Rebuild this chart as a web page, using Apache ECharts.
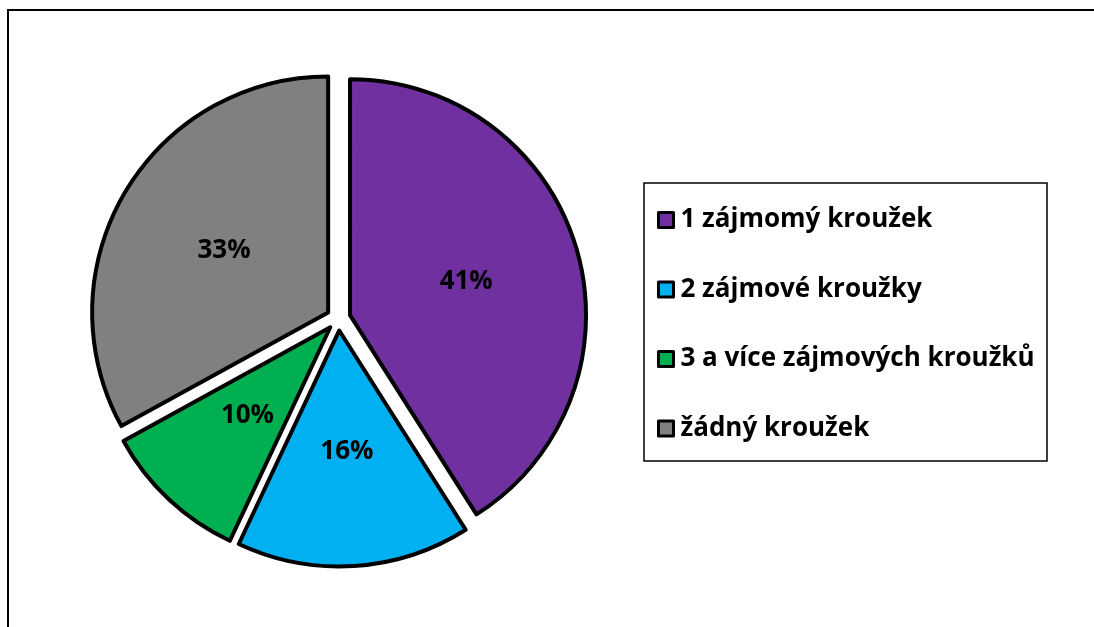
<!DOCTYPE html>
<html><head><meta charset="utf-8">
<script src="https://cdn.jsdelivr.net/npm/echarts@6/dist/echarts.min.js"></script>
<style>html,body{margin:0;padding:0;background:#fff}#c{width:1094px;height:627px}</style>
</head><body><div id="c"></div>
<script>
const categories = ['1 zájmomý kroužek', '2 zájmové kroužky', '3 a více zájmových kroužků', 'žádný kroužek'];
const values = [41, 16, 10, 33];
const colors = ['#7030A0', '#00B0F0', '#00B050', '#808080'];

const chart = echarts.init(document.getElementById('c'));
const FONT = '"Open Sans", sans-serif';
chart.setOption({
  animation: false,
  graphic: [{
    type: 'rect', shape: {x: 8, y: 10, width: 1200, height: 800},
    style: {fill: 'none', stroke: '#000', lineWidth: 2}, silent: true
  }, {
    type: 'rect', shape: {x: 644, y: 183, width: 403, height: 278},
    style: {fill: 'none', stroke: '#000', lineWidth: 1.5}, silent: true
  }],
  legend: {
    orient: 'vertical', left: 657, top: 207,
    data: categories,
    icon: 'rect', itemWidth: 15, itemHeight: 15, itemGap: 43.5,
    padding: 0,
    itemStyle: {borderColor: '#000', borderWidth: 3},
    textStyle: {fontFamily: FONT, fontWeight: 'bold', fontSize: 26, color: '#000', lineHeight: 26, padding: [0,0,0,2]},
    selectedMode: false
  },
  series: [{
    type: 'pie',
    center: [338.5, 318.5],
    radius: 236,
    startAngle: 90,
    clockwise: true,
    selectedMode: 'multiple',
    selectedOffset: 12,
    avoidLabelOverlap: false,
    itemStyle: {borderColor: '#000', borderWidth: 4},
    label: {
      position: 'inner', formatter: '{d}%',
      fontFamily: FONT, fontWeight: 'bold', fontSize: 26, color: '#000'
    },
    labelLine: {show: false},
    emphasis: {disabled: true},
    select: {itemStyle: {borderColor: '#000', borderWidth: 4}, label: {color: '#000'}},
    data: categories.map((n, i) => ({name: n, value: values[i], selected: true, itemStyle: {color: colors[i]}}))
  }]
});
</script></body></html>
